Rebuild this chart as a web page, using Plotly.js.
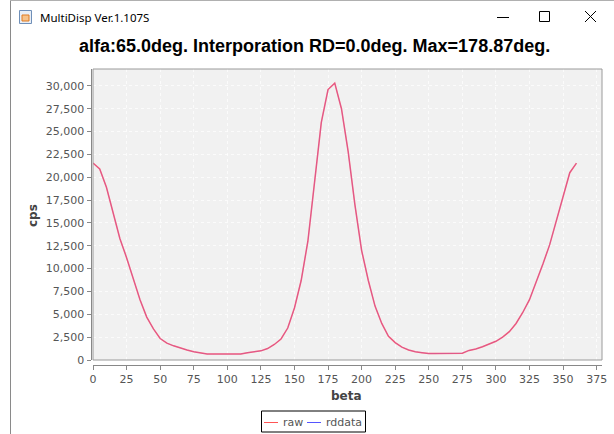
<!DOCTYPE html>
<html>
<head>
<meta charset="utf-8">
<script src="https://cdn.plot.ly/plotly-3.0.1.min.js"></script>
<style>html,body{margin:0;padding:0;background:#fff;}#chart{width:614px;height:434px;}</style>
</head>
<body>
<div id="chart"></div>
<script>
// ---- data ----
const beta = [0,5,10,15,20,25,30,35,40,45,50,55,60,65,70,75,80,85,90,95,100,105,110,115,120,125,130,135,140,145,150,155,160,165,170,175,180,185,190,195,200,205,210,215,220,225,230,235,240,245,250,255,260,265,270,275,280,285,290,295,300,305,310,315,320,325,330,335,340,345,350,355,360];
const raw = [21550,20900,18900,16100,13300,11200,9000,6600,4700,3400,2350,1850,1550,1300,1100,900,750,650,650,650,650,650,650,800,900,1000,1250,1700,2300,3500,5700,8700,13000,19500,26000,29600,30300,27500,22800,17000,12000,8700,5900,4000,2600,1900,1400,1100,900,800,700,700,700,700,700,750,1050,1200,1450,1750,2050,2500,3100,4000,5200,6600,8500,10500,12600,15200,17800,20500,21550];
const rddata = raw.slice();
const xTicks = [0,25,50,75,100,125,150,175,200,225,250,275,300,325,350,375];
const yTicks = [0,2500,5000,7500,10000,12500,15000,17500,20000,22500,25000,27500,30000];
const yTickText = ["0","2,500","5,000","7,500","10,000","12,500","15,000","17,500","20,000","22,500","25,000","27,500","30,000"];
const seriesNames = ["raw","rddata"];
const chartTitle = "alfa:65.0deg. Interporation RD=0.0deg. Max=178.87deg.";
const windowTitle = "MultiDisp Ver.1.107S";

// ---- geometry helpers (pixels -> paper) ----
const W = 614, H = 434;
const X = p => p / W;
const Y = p => 1 - p / H;

const traces = [
  {x: beta, y: raw, name: seriesNames[0], mode: 'lines', line: {color: '#ff5a6e', width: 1.5}, hoverinfo: 'skip'},
  {x: beta, y: rddata, name: seriesNames[1], mode: 'lines', line: {color: '#5555ff', width: 1}, opacity: 0.22, hoverinfo: 'skip'}
];

const tickFont = {family: 'DejaVu Sans', size: 11, color: '#555555'};

const shapes = [
  // window frame
  {type: 'line', xref: 'paper', yref: 'paper', x0: X(10.5), x1: X(10.5), y0: Y(0), y1: Y(434), line: {color: '#8a8a8a', width: 1}},
  {type: 'line', xref: 'paper', yref: 'paper', x0: X(10), x1: X(614), y0: Y(0.5), y1: Y(0.5), line: {color: '#b0b0b0', width: 1}},
  // icon
  {type: 'rect', xref: 'paper', yref: 'paper', x0: X(19.5), x1: X(31.5), y0: Y(10.5), y1: Y(23.5), line: {color: '#6f8fb8', width: 1}, fillcolor: '#e8eef6'},
  {type: 'rect', xref: 'paper', yref: 'paper', x0: X(22), x1: X(29), y0: Y(15), y1: Y(21), line: {color: '#e07a20', width: 1}, fillcolor: '#f6c28a'},
  // window controls
  {type: 'line', xref: 'paper', yref: 'paper', x0: X(497), x1: X(509), y0: Y(17.5), y1: Y(17.5), line: {color: '#000', width: 1}},
  {type: 'rect', xref: 'paper', yref: 'paper', x0: X(539.5), x1: X(549.5), y0: Y(11.5), y1: Y(21.5), line: {color: '#000', width: 1}},
  {type: 'line', xref: 'paper', yref: 'paper', x0: X(585), x1: X(596), y0: Y(11), y1: Y(22), line: {color: '#000', width: 1}},
  {type: 'line', xref: 'paper', yref: 'paper', x0: X(585), x1: X(596), y0: Y(22), y1: Y(11), line: {color: '#000', width: 1}},
  // plot outline
  {type: 'rect', xref: 'paper', yref: 'paper', x0: X(93), x1: X(602), y0: Y(360), y1: Y(69), line: {color: '#9a9a9a', width: 1}, layer: 'above'},
  // legend box
  {type: 'rect', xref: 'paper', yref: 'paper', x0: X(261.5), x1: X(365.5), y0: Y(432), y1: Y(411), line: {color: '#000', width: 1}, fillcolor: '#ffffff'},
  {type: 'line', xref: 'paper', yref: 'paper', x0: X(264), x1: X(278), y0: Y(422.5), y1: Y(422.5), line: {color: '#ff5555', width: 1}},
  {type: 'line', xref: 'paper', yref: 'paper', x0: X(307), x1: X(321), y0: Y(422.5), y1: Y(422.5), line: {color: '#5555ff', width: 1}}
];

const ann = (text, x, y, opts) => Object.assign({text, x: X(x), y: Y(y), xref: 'paper', yref: 'paper', showarrow: false, xanchor: 'center', yanchor: 'middle'}, opts || {});

const annotations = [
  ann(windowTitle, 38, 17, {xanchor: 'left', font: {family: 'Noto Sans', size: 11.5, color: '#000'}}),
  ann('<b>' + chartTitle + '</b>', 314, 46, {font: {family: 'Liberation Sans', size: 18, color: '#000'}}),
  ann('<b>cps</b>', 33, 216, {textangle: -90, font: {family: 'DejaVu Sans', size: 12, color: '#444'}}),
  ann('<b>beta</b>', 346, 396, {font: {family: 'DejaVu Sans', size: 12, color: '#444'}}),
  ann(seriesNames[0], 281, 422, {xanchor: 'left', font: {family: 'DejaVu Sans', size: 11, color: '#555'}}),
  ann(seriesNames[1], 324, 422, {xanchor: 'left', font: {family: 'DejaVu Sans', size: 11, color: '#555'}})
];

const layout = {
  width: W, height: H,
  margin: {l: 0, r: 0, t: 0, b: 0, pad: 0},
  paper_bgcolor: '#ffffff',
  plot_bgcolor: '#f1f1f1',
  showlegend: false,
  xaxis: {
    domain: [X(93), X(602)], range: [0, 379], anchor: 'free', position: Y(364.5),
    tickvals: xTicks, ticktext: xTicks.map(String), ticks: 'outside', ticklen: 4, tickcolor: '#888',
    showline: true, linecolor: '#888', linewidth: 1, zeroline: false,
    showgrid: true, gridcolor: 'rgba(255,255,255,0.7)', griddash: 'dot', gridwidth: 1,
    tickfont: tickFont, automargin: false, fixedrange: true
  },
  yaxis: {
    domain: [Y(360), Y(69)], range: [0, 31850], anchor: 'free', position: X(90.5),
    tickvals: yTicks, ticktext: yTickText, ticks: 'outside', ticklen: 4, tickcolor: '#888',
    showline: true, linecolor: '#888', linewidth: 1, zeroline: false,
    showgrid: true, gridcolor: 'rgba(255,255,255,0.7)', griddash: 'dot', gridwidth: 1,
    tickfont: tickFont, automargin: false, fixedrange: true
  },
  shapes, annotations
};

Plotly.newPlot('chart', traces, layout, {displayModeBar: false, staticPlot: true});
</script>
</body>
</html>
